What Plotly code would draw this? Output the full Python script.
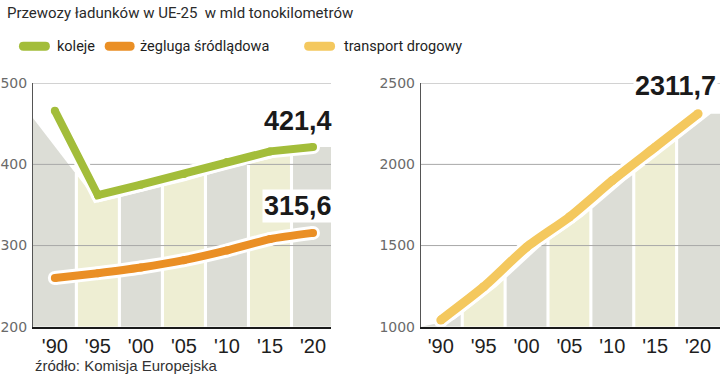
import numpy as np
import plotly.graph_objects as go

# ---------------- data ----------------
years = [1990, 1995, 2000, 2005, 2010, 2015, 2020]
year_labels = ["'90", "'95", "'00", "'05", "'10", "'15", "'20"]
koleje = [466, 362, 375, 388, 403, 416, 421.4]
zegluga = [260, 266, 273, 282, 294, 308, 315.6]
drogowy = [1041, 1246, 1490, 1676, 1900, 2106, 2311.7]
left_ticks = [200, 300, 400, 500]
right_ticks = [1000, 1500, 2000, 2500]
series_names = ["koleje", "żegluga śródlądowa", "transport drogowy"]
value_labels = ["421,4", "315,6", "2311,7"]
title_text = "Przewozy ładunków w UE-25  w mld tonokilometrów"
source_text = "źródło: Komisja Europejska"

# ---------------- style ----------------
W, H = 720, 375
GREEN = "#a3bd3a"
ORANGE = "#ea8f25"
YELLOW = "#f4c85e"
COL_GRAY = "#dcddd6"
COL_CREAM = "#eeeed3"
GRID = "#a8a8a8"
NARROW = "Roboto, sans-serif"
SANS = "Liberation Sans, Arial, sans-serif"
L_X = [1987.45, 2022.1]
R_X = [1987.67, 2022.56]
HALF = 2.32
# vertical compensation for the capture (observed: rendered = (layout + 8) * 375/391)
VS = 391 / 375


def ly(y):
    """target picture y (px from top) -> layout px from top"""
    return y * VS - 8


def px_x(x):
    return x / W


def px_y(y):
    return 1 - ly(y) / H


Y_DOM = [px_y(327), px_y(83)]

fig = go.Figure()


def add_columns(xa, ya, sx, sy, xr, base):
    for i, c in enumerate(years):
        a = c - HALF
        b = c + HALF
        if i == 0:
            a = xr[0]
        if i == len(years) - 1:
            b = xr[1]
        a = max(a, xr[0])
        b = min(b, xr[1])
        inner = [x for x in sx if a < x < b]
        xs = [a] + inner + [b]
        tops = np.interp(xs, sx, sy, left=base)
        pxs = [a] + xs + [b, a]
        pys = [base] + list(tops) + [base, base]
        fig.add_trace(go.Scatter(
            x=pxs, y=pys, fill="toself",
            fillcolor=COL_GRAY if i % 2 == 0 else COL_CREAM,
            line=dict(width=0), mode="lines", hoverinfo="skip",
            showlegend=False, xaxis=xa, yaxis=ya))


def add_grid(xa, ya, ticks, xr):
    for t in ticks[1:]:
        fig.add_trace(go.Scatter(
            x=xr, y=[t, t], mode="lines", line=dict(color=GRID, width=1),
            hoverinfo="skip", showlegend=False, xaxis=xa, yaxis=ya))


def add_line(xa, ya, vals, color, width, shape):
    for c, w in (("white", width + 6), (color, width)):
        fig.add_trace(go.Scatter(
            x=years, y=vals, mode="lines+markers",
            line=dict(color=c, width=w, shape=shape, smoothing=0.6),
            marker=dict(color=c, size=w, line=dict(width=0)),
            hoverinfo="skip", showlegend=False, xaxis=xa, yaxis=ya))


# left chart background columns (shadow of the rail line)
DY_L = 9
l_sx = [L_X[0]] + years[1:] + [L_X[1]]
l_sy = [koleje[0] - DY_L] + [v - DY_L for v in koleje[1:-1]] + [koleje[-1], koleje[-1]]
add_columns("x", "y", l_sx, l_sy, L_X, left_ticks[0])
add_grid("x", "y", left_ticks, L_X)
add_line("x", "y", koleje, GREEN, 8, "linear")
add_line("x", "y", zegluga, ORANGE, 8, "spline")

# right chart
DX_R = 1.5
r_sx = [y + DX_R for y in years] + [R_X[1]]
r_sy = drogowy + [drogowy[-1]]
add_columns("x2", "y2", r_sx, r_sy, R_X, right_ticks[0])
add_grid("x2", "y2", right_ticks, R_X)
add_line("x2", "y2", drogowy, YELLOW, 9, "spline")

axis_x = dict(tickvals=years, ticktext=year_labels, showgrid=False, zeroline=False,
              showline=True, linecolor="#1a1a1a", linewidth=2, ticks="",
              ticklabelstandoff=0,
              tickfont=dict(family=SANS, size=20, color="#1e1e1e"), fixedrange=True)
axis_y = dict(showgrid=False, zeroline=False, showline=True, linecolor="#555",
              linewidth=1, ticks="", ticklabelstandoff=2,
              tickfont=dict(family="DejaVu Sans", size=14, color="#6a6a6a"),
              fixedrange=True, domain=Y_DOM)

fig.update_layout(
    width=W, height=H, margin=dict(l=0, r=0, t=0, b=0, pad=0),
    paper_bgcolor="white", plot_bgcolor="white", showlegend=False,
    xaxis=dict(axis_x, domain=[31 / W, 330 / W], range=L_X, anchor="y"),
    yaxis=dict(axis_y, range=[left_ticks[0], left_ticks[-1]], tickvals=left_ticks, anchor="x"),
    xaxis2=dict(axis_x, domain=[420 / W, 1.0], range=R_X, anchor="y2"),
    yaxis2=dict(axis_y, range=[right_ticks[0], right_ticks[-1]], tickvals=right_ticks, anchor="x2"),
)

annotations = []
# title
annotations.append(dict(text=title_text, x=px_x(3), y=px_y(13), xref="paper", yref="paper",
                        xanchor="left", yanchor="middle", showarrow=False,
                        font=dict(family=NARROW, size=15, color="#2a2a2a")))
# legend
legend_items = [(17, 48, 53, series_names[0], GREEN),
                (103, 133, 136, series_names[1], ORANGE),
                (303, 334, 341, series_names[2], YELLOW)]
shapes = []
LEG_Y = 46
for x0, x1, xt, name, col in legend_items:
    r = 4.5
    pts = [
        ("M", x0 + r, LEG_Y - r), ("L", x1 - r, LEG_Y - r),
        ("Q", x1, LEG_Y - r, x1, LEG_Y), ("Q", x1, LEG_Y + r, x1 - r, LEG_Y + r),
        ("L", x0 + r, LEG_Y + r),
        ("Q", x0, LEG_Y + r, x0, LEG_Y), ("Q", x0, LEG_Y - r, x0 + r, LEG_Y - r),
    ]
    path = ""
    for p in pts:
        cmd = p[0]
        coords = p[1:]
        segs = []
        for k in range(0, len(coords), 2):
            segs.append(f"{px_x(coords[k]):.5f},{px_y(coords[k + 1]):.5f}")
        path += cmd + " " + " ".join(segs) + " "
    path += "Z"
    shapes.append(dict(type="path", path=path, xref="paper", yref="paper",
                       fillcolor=col, line=dict(width=0)))
    annotations.append(dict(text=name, x=px_x(xt), y=px_y(LEG_Y), xref="paper", yref="paper",
                            xanchor="left", yanchor="middle", showarrow=False,
                            font=dict(family=NARROW, size=14.5, color="#1e1e1e")))

# value labels
val_specs = [("x", "y", koleje[-1], value_labels[0], 21, 25),
             ("x", "y", zegluga[-1], value_labels[1], 21, 26),
             ("x2", "y2", drogowy[-1], value_labels[2], 20, 27)]
for xa, ya, v, txt, xs, ys in val_specs:
    annotations.append(dict(text=f"<b>{txt}</b>", x=years[-1], y=v, xref=xa, yref=ya,
                            xanchor="right", yanchor="middle", xshift=xs, yshift=ys * VS,
                            showarrow=False, bgcolor="white", borderpad=1,
                            font=dict(family=SANS, size=27, color="#1a1a1a")))

# source
annotations.append(dict(text=source_text, x=px_x(31), y=px_y(366), xref="paper", yref="paper",
                        xanchor="left", yanchor="middle", showarrow=False,
                        font=dict(family=SANS, size=15, color="#333")))

fig.update_layout(annotations=annotations, shapes=shapes)

fig.write_html(
    "out.html", config=dict(displayModeBar=False, staticPlot=True),
    post_script=("document.documentElement.style.margin='0';"
                 "document.body.style.margin='0';document.body.style.padding='0';"
                 "document.body.style.overflow='hidden';"))
